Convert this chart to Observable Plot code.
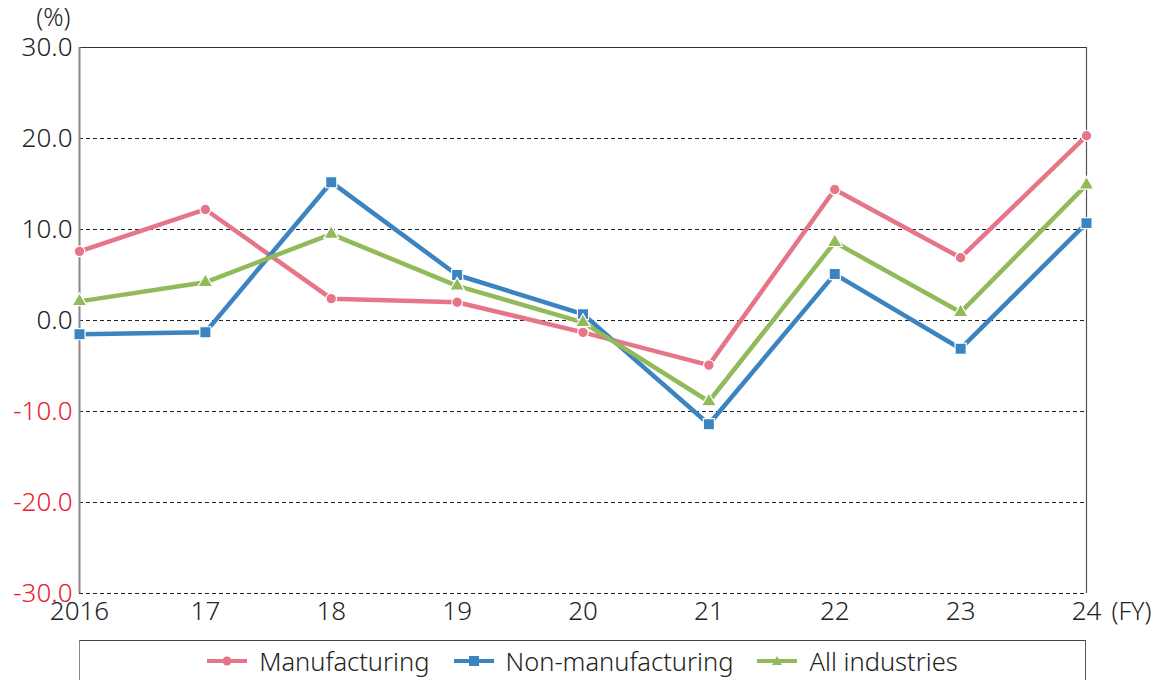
<!DOCTYPE html>
<html>
<head>
<meta charset="utf-8">
<script src="https://cdn.jsdelivr.net/npm/d3@7"></script>
<script src="https://cdn.jsdelivr.net/npm/@observablehq/plot@0.6"></script>
<style>
  body { margin: 0; background: #fff; font-family: "Noto Sans", sans-serif; font-weight: 300; overflow: hidden; }
  #wrap { position: relative; width: 1165px; height: 680px; overflow: hidden; }
  #chart svg { display: block; }
  #legend { position: absolute; left: 79px; top: 640px; width: 1007px; height: 60px;
    border-top: 1.5px solid #444; border-left: 1.5px solid #888; border-right: 1.5px solid #555;
    display: flex; justify-content: center; align-items: flex-start; padding-top: 3px; box-sizing: border-box;
    font-size: 25.5px; color: #222; }
  .item { display: flex; align-items: center; margin: 0 12px; }
  .item svg { margin-right: 12px; }
</style>
</head>
<body>
<div id="wrap">
  <div id="chart"></div>
  <div id="legend"></div>
</div>
<script>
const years = ["2016","17","18","19","20","21","22","23","24"];
const manufacturing = [7.6, 12.2, 2.4, 2.0, -1.3, -4.9, 14.4, 6.9, 20.3];
const nonManufacturing = [-1.5, -1.3, 15.2, 5.0, 0.7, -11.4, 5.1, -3.1, 10.7];
const allIndustries = [2.1, 4.2, 9.5, 3.8, -0.2, -8.9, 8.6, 0.9, 14.9];
const seriesNames = ["Manufacturing", "Non-manufacturing", "All industries"];
const seriesColors = ["#e67588", "#3b84c1", "#92b95a"];
const seriesSymbols = ["circle", "square", "triangle"];
const yTicks = [-30, -20, -10, 0, 10, 20, 30];

const seriesValues = [manufacturing, nonManufacturing, allIndustries];
const rows = [];
seriesValues.forEach((vals, si) => vals.forEach((v, i) => rows.push({year: years[i], value: v, series: seriesNames[si]})));

const marks = [
  Plot.ruleY(yTicks.filter(t => t < 30), {stroke: "#222", strokeDasharray: "4,3", strokeWidth: 1}),
  Plot.ruleY([30], {stroke: "#333", strokeWidth: 1.2}),
  Plot.ruleX([years[0]], {stroke: "#888", strokeWidth: 2}),
  Plot.ruleX([years[years.length - 1]], {stroke: "#555", strokeWidth: 1.2}),
  Plot.axisY({ticks: yTicks, tickSize: 0, tickPadding: 7, tickFormat: d => d.toFixed(1), fontSize: 26, fill: "#222", label: null}),
  Plot.axisX({tickSize: 0, tickPadding: 8, fontSize: 26, fill: "#222", label: null}),
];
seriesNames.forEach((name, si) => {
  const d = rows.filter(r => r.series === name);
  marks.push(Plot.line(d, {x: "year", y: "value", stroke: seriesColors[si], strokeWidth: 4.5}));
});
seriesNames.forEach((name, si) => {
  const d = rows.filter(r => r.series === name);
  marks.push(Plot.dot(d, {x: "year", y: "value", fill: seriesColors[si], stroke: "white", strokeWidth: 1.2,
    symbol: () => seriesSymbols[si], r: si === 0 ? 5.3 : si === 1 ? 6.3 : 5.5}));
});
marks.push(Plot.text(["(%)"], {x: () => years[0], y: () => 30, text: d => d, dx: -9, dy: -30, textAnchor: "end", fontSize: 25, fill: "#222"}));
marks.push(Plot.text(["(FY)"], {x: () => years[years.length - 1], y: () => -30, text: d => d, dx: 25, dy: 18, textAnchor: "start", fontSize: 25, fill: "#222"}));

const chart = Plot.plot({
  width: 1165,
  height: 635,
  marginLeft: 79,
  marginRight: 79,
  marginTop: 47,
  marginBottom: 42,
  x: {type: "point", domain: years, padding: 0, round: false, label: null},
  y: {domain: [-30, 30], label: null},
  symbol: {type: "ordinal"},
  style: {fontFamily: "'Noto Sans', sans-serif", fontWeight: 300, overflow: "visible", maxWidth: "none"},
  marks
});
document.getElementById("chart").appendChild(chart);
d3.select(chart).selectAll("text").each(function() {
  const t = this.textContent;
  if (/^-\d/.test(t) || /^−\d/.test(t)) d3.select(this).attr("fill", "#e8212e");
});

const legend = document.getElementById("legend");
seriesNames.forEach((name, si) => {
  const item = document.createElement("div");
  item.className = "item";
  const sym = si === 0 ? '<circle cx="20" cy="11" r="4.5" fill="' + seriesColors[si] + '"/>'
    : si === 1 ? '<rect x="15" y="6" width="10" height="10" fill="' + seriesColors[si] + '"/>'
    : '<path d="M20 6 L25 15 L15 15 Z" fill="' + seriesColors[si] + '"/>';
  item.innerHTML = '<svg width="40" height="22"><line x1="0" x2="40" y1="11" y2="11" stroke="' + seriesColors[si] + '" stroke-width="4"/>' + sym + '</svg><span>' + name + '</span>';
  legend.appendChild(item);
});
</script>
</body>
</html>
